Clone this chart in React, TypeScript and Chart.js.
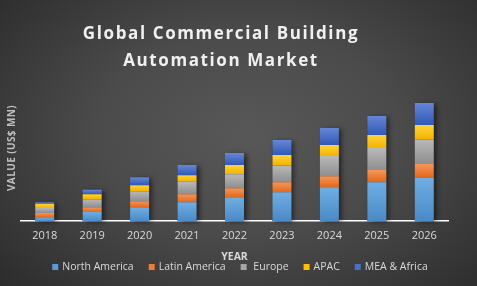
import React, { useEffect, useRef } from "react";
import { Chart, registerables } from "chart.js";

Chart.register(...registerables);

const years = ["2018", "2019", "2020", "2021", "2022", "2023", "2024", "2025", "2026"];
const northAmerica = [4, 9.3, 14, 19, 24, 29, 34, 39, 43.7];
const latinAmerica = [4.3, 4.7, 6, 8, 9, 10, 11, 12, 13.3];
const europe = [5, 8, 10, 12.3, 14, 16.7, 20, 22, 24.7];
const apac = [4, 5, 6, 6.7, 9, 10.3, 11, 13, 14.3];
const meaAfrica = [1.7, 4.3, 8, 10, 12, 15, 17, 19, 22];

const seriesNames = ["North America", "Latin America", " Europe", "APAC", "MEA & Africa"];
const seriesData = [northAmerica, latinAmerica, europe, apac, meaAfrica];
const flatColors = ["#5b9bd5", "#ed7d31", "#a5a5a5", "#ffc000", "#4472c4"];
const topColors = ["#70aee2", "#f6955a", "#b9b9b9", "#ffd23a", "#6687d6"];
const bottomColors = ["#4a89c6", "#e2691c", "#8e8e8e", "#f2b400", "#2f58b6"];

const titleLines = ["Global Commercial Building", "Automation Market"];
const yTitle = "VALUE (US$ MN)";
const xTitle = "YEAR";

const FONT = "'Open Sans', 'DejaVu Sans', sans-serif";

export default function App() {
  const canvasRef = useRef<HTMLCanvasElement | null>(null);

  useEffect(() => {
    const canvas = canvasRef.current;
    if (!canvas) return;

    const shadowPlugin = {
      id: "stackShadow",
      beforeDatasetsDraw(chart: any) {
        const ctx = chart.ctx;
        const first = chart.getDatasetMeta(0);
        const last = chart.getDatasetMeta(seriesData.length - 1);
        ctx.save();
        ctx.shadowColor = "rgba(0,0,0,0.55)";
        ctx.shadowBlur = 5;
        ctx.shadowOffsetX = 3;
        ctx.shadowOffsetY = 1;
        ctx.fillStyle = "#333";
        first.data.forEach((bar: any, i: number) => {
          const topBar = last.data[i];
          const w = bar.width;
          ctx.fillRect(bar.x - w / 2, topBar.y, w, bar.base - topBar.y);
        });
        ctx.restore();
      },
    };

    const textPlugin = {
      id: "customText",
      afterDraw(chart: any) {
        const ctx = chart.ctx;
        ctx.save();
        ctx.fillStyle = "#f0f0f0";
        ctx.font = `bold 17px ${FONT}`;
        (ctx as any).letterSpacing = "1.6px";
        ctx.textAlign = "center";
        ctx.textBaseline = "middle";
        ctx.fillText(titleLines[0], 221, 34);
        ctx.fillText(titleLines[1], 221, 61);
        (ctx as any).letterSpacing = "0px";
        ctx.save();
        ctx.translate(12, 148);
        ctx.rotate(-Math.PI / 2);
        ctx.fillStyle = "#bfbfbf";
        ctx.font = `bold 10px ${FONT}`;
        (ctx as any).letterSpacing = "0.4px";
        ctx.fillText(yTitle, 0, 0);
        (ctx as any).letterSpacing = "0px";
        ctx.restore();
        ctx.font = `10.5px ${FONT}`;
        ctx.textAlign = "left";
        const box = 6;
        const gapBox = 4;
        const gapItem = 15;
        const widths = seriesNames.map((n) => ctx.measureText(n).width);
        const total =
          widths.reduce((a, b) => a + b, 0) +
          seriesNames.length * (box + gapBox) +
          (seriesNames.length - 1) * gapItem;
        let x = 240 - total / 2;
        const yc = 267;
        seriesNames.forEach((n, i) => {
          ctx.fillStyle = flatColors[i];
          ctx.fillRect(x, yc - box / 2, box, box);
          x += box + gapBox;
          ctx.fillStyle = "#d9d9d9";
          ctx.fillText(n, x, yc);
          x += widths[i] + gapItem;
        });
        ctx.restore();
      },
    };

    const datasets = seriesData.map((data, di) => ({
      label: seriesNames[di],
      data,
      borderWidth: 0,
      barPercentage: 0.4,
      categoryPercentage: 1,
      backgroundColor: (c: any) => {
        const chart = c.chart;
        if (c.type !== "data" || !chart.chartArea || !chart.scales.y) return flatColors[di];
        const y = chart.scales.y;
        let base = 0;
        for (let k = 0; k < di; k++) base += seriesData[k][c.dataIndex];
        const top = y.getPixelForValue(base + data[c.dataIndex]);
        const bot = y.getPixelForValue(base);
        if (!isFinite(top) || !isFinite(bot) || top === bot) return flatColors[di];
        const g = chart.ctx.createLinearGradient(0, top, 0, bot);
        g.addColorStop(0, topColors[di]);
        g.addColorStop(1, bottomColors[di]);
        return g;
      },
    }));

    const chart = new Chart(canvas, {
      type: "bar",
      data: { labels: years, datasets },
      options: {
        responsive: false,
        animation: false,
        layout: { padding: { left: 21, right: 29, top: 86, bottom: 23 } },
        plugins: {
          legend: { display: false },
          title: { display: false },
          tooltip: { enabled: false },
        },
        scales: {
          x: {
            stacked: true,
            grid: { display: false, drawTicks: false },
            border: { display: true, color: "#ffffff", width: 1.5 },
            ticks: { color: "#d9d9d9", font: { family: FONT, size: 11 }, padding: 8 },
            title: {
              display: true,
              text: xTitle,
              color: "#d9d9d9",
              font: { family: FONT, size: 10.5, weight: "bold" },
              padding: { top: 0, bottom: 0 },
            },
          },
          y: {
            stacked: true,
            display: false,
            min: 0,
            max: 135,
          },
        },
      },
      plugins: [shadowPlugin, textPlugin],
    });

    return () => chart.destroy();
  }, []);

  return (
    <div
      style={{
        position: "fixed",
        left: 0,
        top: 0,
        width: 477,
        height: 286,
        background:
          "radial-gradient(ellipse 70% 78% at 52% 47%, #585858 0%, #4b4b4b 45%, #2c2c2c 100%)",
      }}
    >
      <canvas ref={canvasRef} width={477} height={286} style={{ display: "block" }} />
    </div>
  );
}
